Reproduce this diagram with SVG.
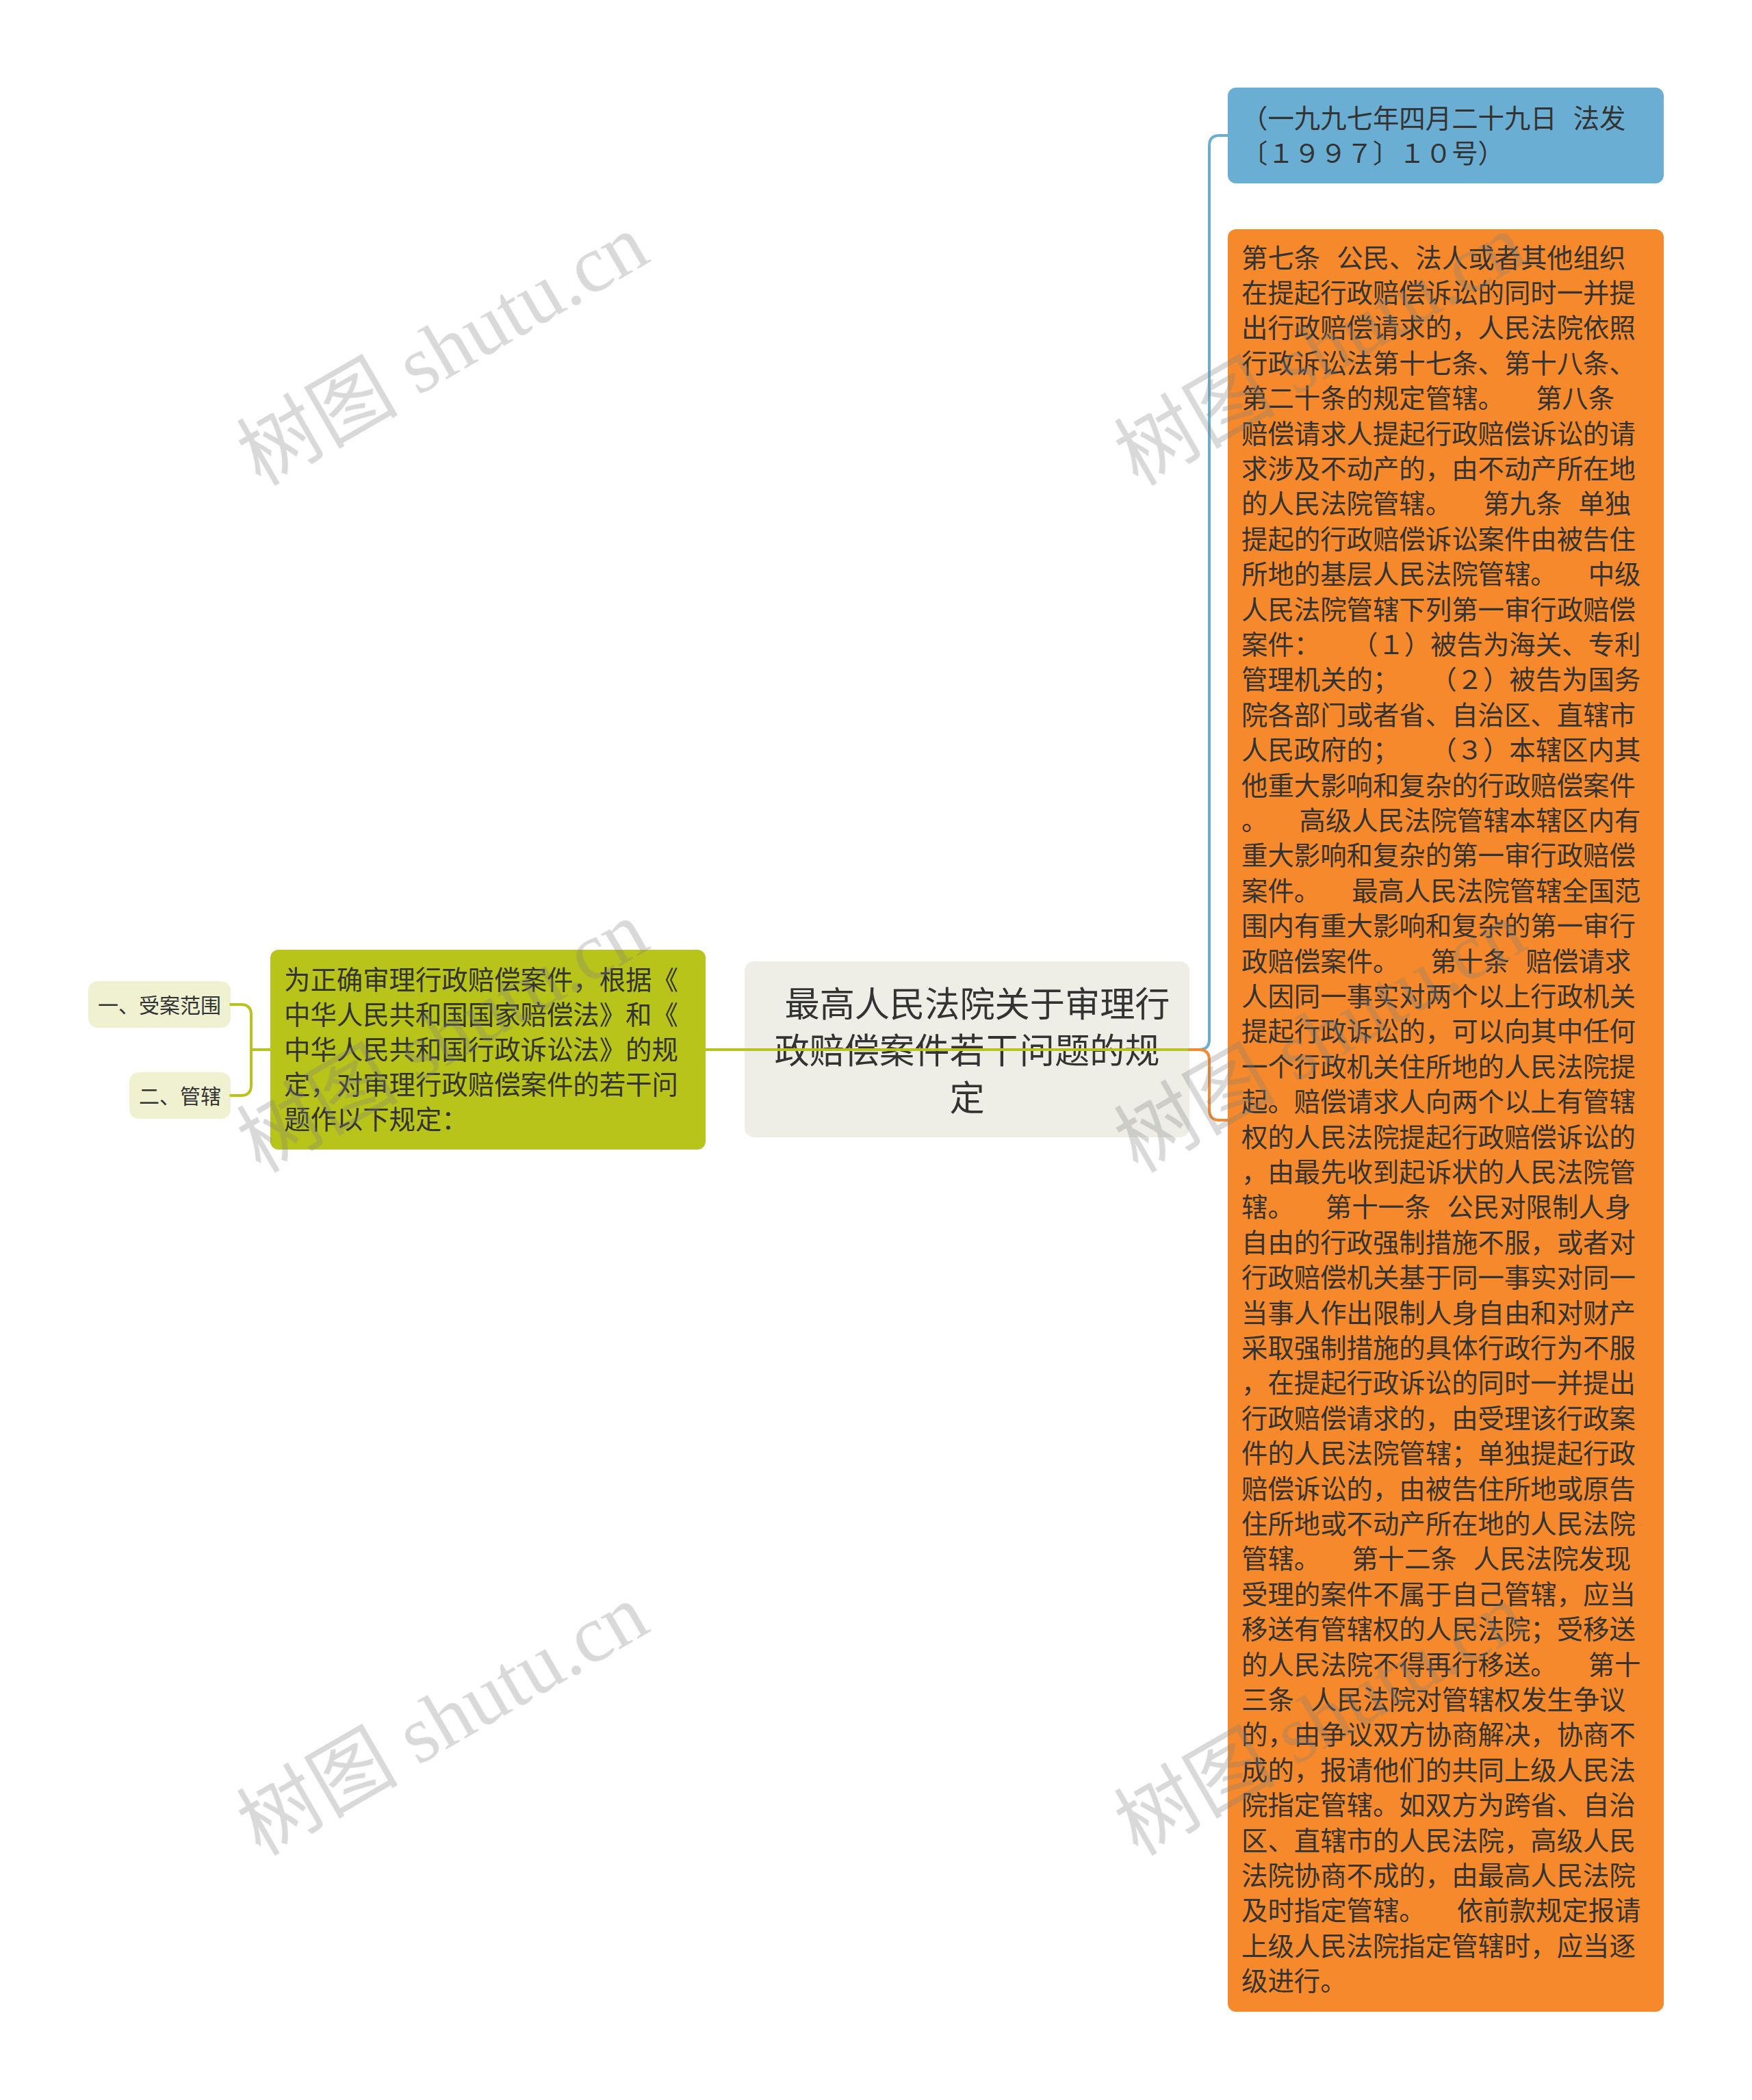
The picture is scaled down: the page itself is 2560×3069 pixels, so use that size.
<svg xmlns="http://www.w3.org/2000/svg" width="2560" height="3069" viewBox="0 0 2560 3069">
<style>
  text { font-family: "Noto Sans CJK SC", "Liberation Sans", sans-serif; fill: #333333; }
  .t38 { font-size: 38.4px; }
  .t51 { font-size: 51.2px; }
  .t30 { font-size: 30px; }
  .conn { fill: none; stroke-width: 4; stroke-linecap: round; stroke-linejoin: round; }
  .wm { font-family: "Liberation Serif", "Noto Sans CJK SC", serif; font-size: 118px; fill: #808080; }
</style>
<rect x="0" y="0" width="2560" height="3069" fill="#ffffff"/>

<g id="node-leaf1">
  <rect x="129" y="1434" width="208" height="68" rx="14" fill="#eff1d0"/>
  <text class="t30" x="233" y="1479.5" text-anchor="middle">一、受案范围</text>
</g>
<g id="node-leaf2">
  <rect x="189" y="1567" width="148" height="68" rx="14" fill="#eff1d0"/>
  <text class="t30" x="263" y="1612.5" text-anchor="middle">二、管辖</text>
</g>

<g id="node-intro">
  <rect x="395" y="1388" width="636" height="292" rx="12" fill="#b8c41a"/>
  <text class="t38">
    <tspan x="415" y="1445.6">为正确审理行政赔偿案件，根据《</tspan>
    <tspan x="415" dy="51.2">中华人民共和国国家赔偿法》和《</tspan>
    <tspan x="415" dy="51.2">中华人民共和国行政诉讼法》的规</tspan>
    <tspan x="415" dy="51.2">定，对审理行政赔偿案件的若干问</tspan>
    <tspan x="415" dy="51.2">题作以下规定：</tspan>
  </text>
</g>

<g id="node-root">
  <rect x="1088" y="1405" width="650" height="257" rx="14" fill="#eeeee6"/>
  <text class="t51" text-anchor="middle" xml:space="preserve"><tspan x="1428" y="1485.5">最高人民法院关于审理行</tspan><tspan x="1413" y="1554">政赔偿案件若干问题的规</tspan><tspan x="1413" y="1622.5">定</tspan></text>
</g>

<g id="node-date">
  <rect x="1794" y="128" width="637" height="140" rx="12" fill="#6aafd3"/>
  <text class="t38">
    <tspan x="1814" y="186.6">（一九九七年四月二十九日<tspan dx="24">法发</tspan></tspan>
    <tspan x="1814" dy="51.2">〔１９９７〕１０号）</tspan>
  </text>
</g>

<g id="node-content">
  <rect x="1794" y="335" width="637" height="2605" rx="12" fill="#f5892b"/>
  <text class="t38">
    <tspan x="1814" y="390.6">第七条<tspan dx="24">公民、法人或者其他组织</tspan></tspan>
    <tspan x="1814" dy="51.4">在提起行政赔偿诉讼的同时一并提</tspan>
    <tspan x="1814" dy="51.4">出行政赔偿请求的，人民法院依照</tspan>
    <tspan x="1814" dy="51.4">行政诉讼法第十七条、第十八条、</tspan>
    <tspan x="1814" dy="51.4">第二十条的规定管辖。<tspan dx="46">第八条</tspan></tspan>
    <tspan x="1814" dy="51.4">赔偿请求人提起行政赔偿诉讼的请</tspan>
    <tspan x="1814" dy="51.4">求涉及不动产的，由不动产所在地</tspan>
    <tspan x="1814" dy="51.4">的人民法院管辖。<tspan dx="46">第九条</tspan><tspan dx="24">单独</tspan></tspan>
    <tspan x="1814" dy="51.4">提起的行政赔偿诉讼案件由被告住</tspan>
    <tspan x="1814" dy="51.4">所地的基层人民法院管辖。<tspan dx="46">中级</tspan></tspan>
    <tspan x="1814" dy="51.4">人民法院管辖下列第一审行政赔偿</tspan>
    <tspan x="1814" dy="51.4">案件：<tspan dx="65">（１）被告为海关、专利</tspan></tspan>
    <tspan x="1814" dy="51.4">管理机关的；<tspan dx="65">（２）被告为国务</tspan></tspan>
    <tspan x="1814" dy="51.4">院各部门或者省、自治区、直辖市</tspan>
    <tspan x="1814" dy="51.4">人民政府的；<tspan dx="65">（３）本辖区内其</tspan></tspan>
    <tspan x="1814" dy="51.4">他重大影响和复杂的行政赔偿案件</tspan>
    <tspan x="1814" dy="51.4">。<tspan dx="46">高级人民法院管辖本辖区内有</tspan></tspan>
    <tspan x="1814" dy="51.4">重大影响和复杂的第一审行政赔偿</tspan>
    <tspan x="1814" dy="51.4">案件。<tspan dx="46">最高人民法院管辖全国范</tspan></tspan>
    <tspan x="1814" dy="51.4">围内有重大影响和复杂的第一审行</tspan>
    <tspan x="1814" dy="51.4">政赔偿案件。<tspan dx="46">第十条</tspan><tspan dx="24">赔偿请求</tspan></tspan>
    <tspan x="1814" dy="51.4">人因同一事实对两个以上行政机关</tspan>
    <tspan x="1814" dy="51.4">提起行政诉讼的，可以向其中任何</tspan>
    <tspan x="1814" dy="51.4">一个行政机关住所地的人民法院提</tspan>
    <tspan x="1814" dy="51.4">起。赔偿请求人向两个以上有管辖</tspan>
    <tspan x="1814" dy="51.4">权的人民法院提起行政赔偿诉讼的</tspan>
    <tspan x="1814" dy="51.4">，由最先收到起诉状的人民法院管</tspan>
    <tspan x="1814" dy="51.4">辖。<tspan dx="46">第十一条</tspan><tspan dx="24">公民对限制人身</tspan></tspan>
    <tspan x="1814" dy="51.4">自由的行政强制措施不服，或者对</tspan>
    <tspan x="1814" dy="51.4">行政赔偿机关基于同一事实对同一</tspan>
    <tspan x="1814" dy="51.4">当事人作出限制人身自由和对财产</tspan>
    <tspan x="1814" dy="51.4">采取强制措施的具体行政行为不服</tspan>
    <tspan x="1814" dy="51.4">，在提起行政诉讼的同时一并提出</tspan>
    <tspan x="1814" dy="51.4">行政赔偿请求的，由受理该行政案</tspan>
    <tspan x="1814" dy="51.4">件的人民法院管辖；单独提起行政</tspan>
    <tspan x="1814" dy="51.4">赔偿诉讼的，由被告住所地或原告</tspan>
    <tspan x="1814" dy="51.4">住所地或不动产所在地的人民法院</tspan>
    <tspan x="1814" dy="51.4">管辖。<tspan dx="46">第十二条</tspan><tspan dx="24">人民法院发现</tspan></tspan>
    <tspan x="1814" dy="51.4">受理的案件不属于自己管辖，应当</tspan>
    <tspan x="1814" dy="51.4">移送有管辖权的人民法院；受移送</tspan>
    <tspan x="1814" dy="51.4">的人民法院不得再行移送。<tspan dx="46">第十</tspan></tspan>
    <tspan x="1814" dy="51.4">三条<tspan dx="24">人民法院对管辖权发生争议</tspan></tspan>
    <tspan x="1814" dy="51.4">的，由争议双方协商解决，协商不</tspan>
    <tspan x="1814" dy="51.4">成的，报请他们的共同上级人民法</tspan>
    <tspan x="1814" dy="51.4">院指定管辖。如双方为跨省、自治</tspan>
    <tspan x="1814" dy="51.4">区、直辖市的人民法院，高级人民</tspan>
    <tspan x="1814" dy="51.4">法院协商不成的，由最高人民法院</tspan>
    <tspan x="1814" dy="51.4">及时指定管辖。<tspan dx="46">依前款规定报请</tspan></tspan>
    <tspan x="1814" dy="51.4">上级人民法院指定管辖时，应当逐</tspan>
    <tspan x="1814" dy="51.4">级进行。</tspan>
  </text>
</g>

<g id="connectors">
  <path class="conn" stroke="#b8c41a" d="M395 1534 H367 M337 1468 H352 Q367 1468 367 1483 V1586 Q367 1601 352 1601 H337"/>
  <path class="conn" stroke="#b8c41a" d="M1031 1534 H1738"/>
  <path class="conn" stroke="#6aafd3" d="M1738 1534 H1752 Q1767 1534 1767 1519 V213 Q1767 198 1782 198 H1794"/>
  <path class="conn" stroke="#f5892b" d="M1738 1534 H1752 Q1767 1534 1767 1549 V1622 Q1767 1637 1782 1637 H1794"/>
</g>

<g id="watermarks" opacity="0.3">
  <text class="wm" text-anchor="middle" transform="translate(648,513) rotate(-30)" x="0" y="38">树图 shutu.cn</text>
  <text class="wm" text-anchor="middle" transform="translate(1930,513) rotate(-30)" x="0" y="38">树图 shutu.cn</text>
  <text class="wm" text-anchor="middle" transform="translate(648,1517) rotate(-30)" x="0" y="38">树图 shutu.cn</text>
  <text class="wm" text-anchor="middle" transform="translate(1930,1517) rotate(-30)" x="0" y="38">树图 shutu.cn</text>
  <text class="wm" text-anchor="middle" transform="translate(648,2515) rotate(-30)" x="0" y="38">树图 shutu.cn</text>
  <text class="wm" text-anchor="middle" transform="translate(1930,2515) rotate(-30)" x="0" y="38">树图 shutu.cn</text>
</g>
</svg>
